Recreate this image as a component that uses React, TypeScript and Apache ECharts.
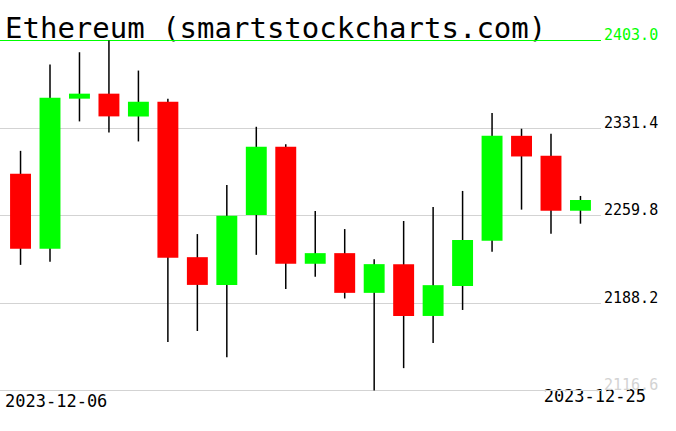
import React, { useEffect, useRef } from 'react';
import * as echarts from 'echarts';

const titleText = 'Ethereum (smartstockcharts.com)';
const categories = [
  '2023-12-06', '2023-12-07', '2023-12-08', '2023-12-09', '2023-12-10',
  '2023-12-11', '2023-12-12', '2023-12-13', '2023-12-14', '2023-12-15',
  '2023-12-16', '2023-12-17', '2023-12-18', '2023-12-19', '2023-12-20',
  '2023-12-21', '2023-12-22', '2023-12-23', '2023-12-24', '2023-12-25',
];
const opens = [2293.9, 2232.6, 2355.4, 2359.5, 2340.9, 2352.9, 2225.7, 2203.0, 2260.2, 2316.0, 2220.3, 2229.0, 2196.5, 2220.0, 2177.6, 2202.2, 2239.1, 2325.0, 2308.6, 2263.7];
const closes = [2232.6, 2356.2, 2359.5, 2340.9, 2352.9, 2225.2, 2203.0, 2259.6, 2316.0, 2220.3, 2229.0, 2196.5, 2220.0, 2177.6, 2202.8, 2239.7, 2325.0, 2308.1, 2263.7, 2272.5];
const lows = [2219.4, 2221.9, 2336.8, 2327.8, 2320.4, 2156.2, 2165.3, 2143.9, 2227.6, 2199.7, 2209.6, 2191.9, 2116.6, 2134.9, 2155.4, 2182.5, 2230.1, 2264.6, 2244.9, 2253.1];
const highs = [2312.7, 2383.3, 2393.4, 2403.0, 2378.4, 2355.4, 2244.6, 2284.8, 2332.4, 2318.2, 2263.5, 2248.7, 2224.1, 2255.3, 2266.8, 2279.9, 2343.7, 2330.8, 2326.7, 2275.8];
const yTicks = [2116.6, 2188.2, 2259.8, 2331.4, 2403.0];

const MONO = '"DejaVu Sans Mono", "Liberation Mono", monospace';

export default function App() {
  const ref = useRef<HTMLDivElement>(null);
  useEffect(() => {
    const chart = echarts.init(ref.current!, null, { renderer: 'svg' });
    const yMin = yTicks[0];
    const yMax = yTicks[yTicks.length - 1];
    const yInterval = +(yTicks[1] - yTicks[0]).toFixed(1);
    const data = categories.map((_, i) => [i, opens[i], closes[i], lows[i], highs[i]]);
    chart.setOption({
      animation: false,
      backgroundColor: '#ffffff',
      grid: [
        { left: 0, right: 75, top: 40.5, bottom: 40.5, containLabel: false },
        { left: 5.8, right: 80.8, top: 40.5, bottom: 40.5, containLabel: false },
      ],
      xAxis: [
        { type: 'value', gridIndex: 0, min: 0, max: 1, show: false },
        {
          type: 'category', gridIndex: 1, data: categories, boundaryGap: true,
          axisLine: { show: false }, axisTick: { show: false }, axisLabel: { show: false }, splitLine: { show: false },
        },
      ],
      yAxis: [
        {
          type: 'value', gridIndex: 0, position: 'right', min: yMin, max: yMax, interval: yInterval,
          axisLine: { show: false }, axisTick: { show: false },
          splitLine: { show: true, lineStyle: { color: '#d3d3d3', width: 1 } },
          axisLabel: {
            show: true, inside: false, margin: 3,
            fontFamily: MONO, fontSize: 15,
            verticalAlign: 'bottom', lineHeight: 11,
            formatter: (v: number) => v.toFixed(1),
            color: (v: number) => Math.abs(v - yMax) < 0.01 ? '#00ff00' : Math.abs(v - yMin) < 0.01 ? '#d3d3d3' : '#000000',
          },
        },
        { type: 'value', gridIndex: 1, min: yMin, max: yMax, show: false, splitLine: { show: false } },
      ],
      graphic: [
        { type: 'text', x: 5, y: 27.5, style: { text: titleText, font: `29px ${MONO}`, fill: '#000', align: 'left', verticalAlign: 'middle' } },
        { type: 'text', x: 5, y: 400.5, style: { text: categories[0], font: `17px ${MONO}`, fill: '#000', align: 'left', verticalAlign: 'middle' } },
        { type: 'text', x: 646, y: 395.5, style: { text: categories[categories.length - 1], font: `17px ${MONO}`, fill: '#000', align: 'right', verticalAlign: 'middle' } },
      ],
      series: [
        {
          type: 'line', xAxisIndex: 0, yAxisIndex: 0, data: [[0, yMax], [1, yMax]], symbol: 'none', silent: true,
          lineStyle: { color: '#00ff00', width: 1 }, z: 3,
        },
        {
          type: 'custom', xAxisIndex: 1, yAxisIndex: 1, data, z: 4,
          renderItem: (params: any, api: any) => {
            const idx = api.value(0);
            const o = api.value(1), c = api.value(2), l = api.value(3), h = api.value(4);
            const pO = api.coord([idx, o]);
            const pC = api.coord([idx, c]);
            const pL = api.coord([idx, l]);
            const pH = api.coord([idx, h]);
            const x = pO[0];
            const w = api.size([1, 0])[0] * 0.71;
            const top = Math.min(pO[1], pC[1]);
            const hgt = Math.max(Math.abs(pO[1] - pC[1]), 1);
            return {
              type: 'group',
              children: [
                { type: 'line', shape: { x1: x, y1: pH[1], x2: x, y2: pL[1] }, style: { stroke: '#000', lineWidth: 1.5 } },
                { type: 'rect', shape: { x: x - w / 2, y: top, width: w, height: hgt }, style: { fill: c >= o ? '#00ff00' : '#ff0000' } },
              ],
            };
          },
        },
      ],
    });
    return () => chart.dispose();
  }, []);
  return <div ref={ref} style={{ position: 'fixed', left: 0, top: 0, width: 676, height: 431 }} />;
}
